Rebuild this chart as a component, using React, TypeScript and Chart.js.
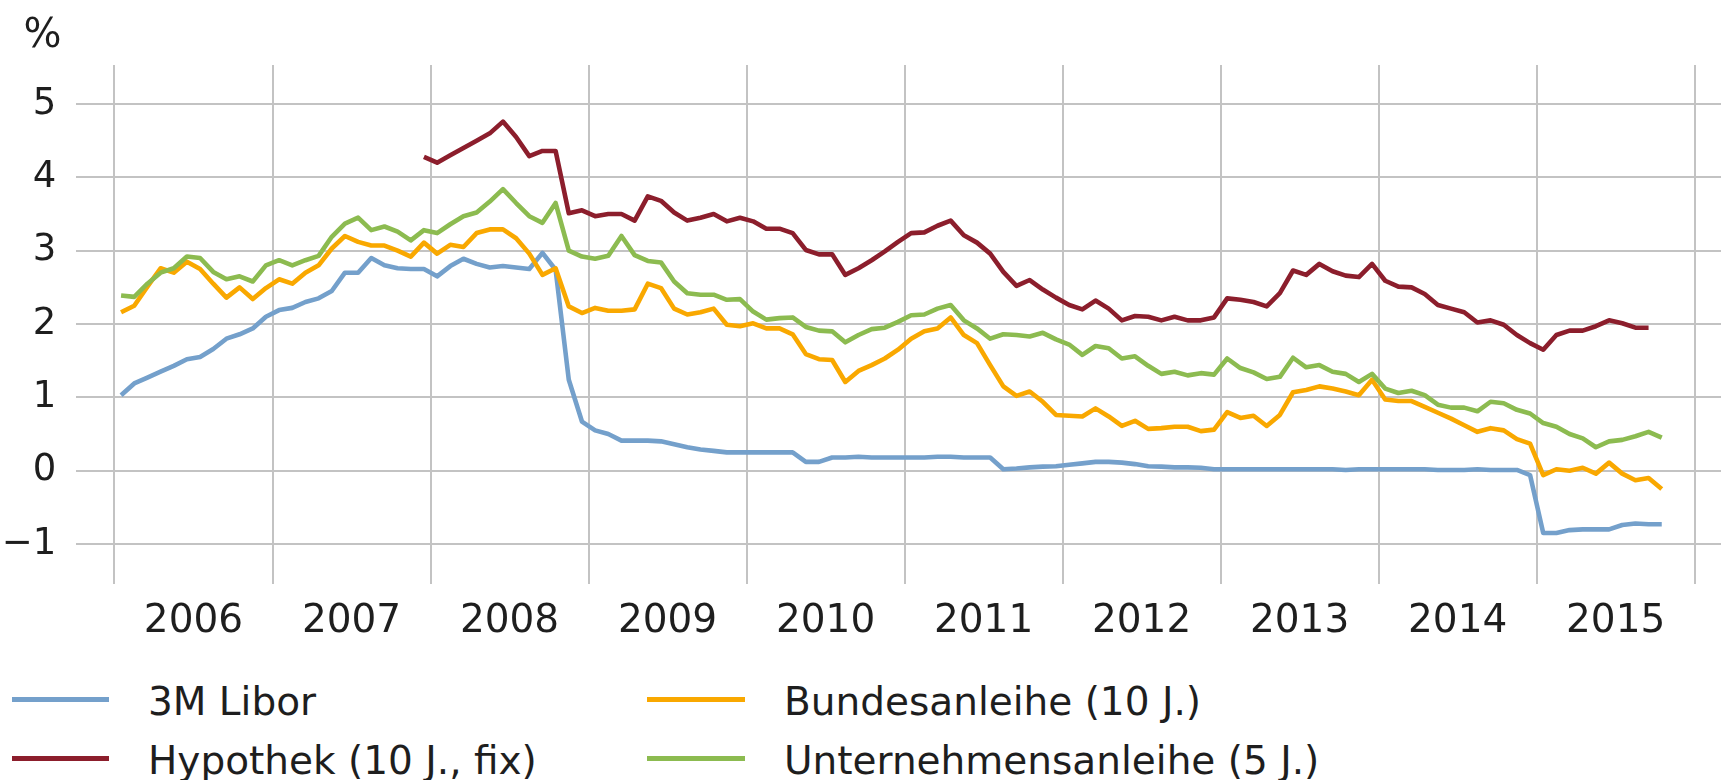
import React, { useEffect, useRef } from 'react';
import { Chart, registerables } from 'chart.js';

Chart.register(...registerables);

// ---- data ----
const yearLabels = ['2006', '2007', '2008', '2009', '2010', '2011', '2012', '2013', '2014', '2015'];
const yTicks = [-1, 0, 1, 2, 3, 4, 5];
const yTickLabels = ['−1', '0', '1', '2', '3', '4', '5'];
const seriesNames = ['3M Libor', 'Hypothek (10 J., fix)', 'Bundesanleihe (10 J.)', 'Unternehmensanleihe (5 J.)'];

// monthly values, first value = Jan 2006
const libor = [
  1.03, 1.19, 1.27, 1.35, 1.43, 1.52, 1.55, 1.66, 1.80, 1.86, 1.94, 2.10,
  2.19, 2.22, 2.30, 2.35, 2.45, 2.70, 2.70, 2.90, 2.80, 2.76, 2.75, 2.75,
  2.65, 2.79, 2.89, 2.82, 2.77, 2.79, 2.77, 2.75, 2.97, 2.74, 1.24, 0.67,
  0.55, 0.50, 0.41, 0.41, 0.41, 0.40, 0.36, 0.32, 0.29, 0.27, 0.25, 0.25,
  0.25, 0.25, 0.25, 0.25, 0.12, 0.12, 0.18, 0.18, 0.19, 0.18, 0.18, 0.18,
  0.18, 0.18, 0.19, 0.19, 0.18, 0.18, 0.18, 0.02, 0.03, 0.045, 0.055, 0.06,
  0.08, 0.10, 0.12, 0.12, 0.11, 0.09, 0.06, 0.055, 0.045, 0.045, 0.04, 0.02,
  0.02, 0.02, 0.02, 0.02, 0.02, 0.02, 0.02, 0.02, 0.02, 0.01, 0.02, 0.02,
  0.02, 0.02, 0.02, 0.02, 0.01, 0.01, 0.01, 0.02, 0.01, 0.01, 0.01, -0.06,
  -0.85, -0.85, -0.81, -0.80, -0.80, -0.80, -0.74, -0.72, -0.73, -0.73,
];

// first value = Dec 2007 (month index 23)
const hypothekStart = 23;
const hypothek = [
  4.28,
  4.20, 4.30, 4.40, 4.50, 4.60, 4.76, 4.55, 4.29, 4.36, 4.36, 3.51, 3.55,
  3.47, 3.50, 3.50, 3.41, 3.74, 3.68, 3.52, 3.41, 3.45, 3.50, 3.40, 3.45,
  3.40, 3.30, 3.30, 3.24, 3.01, 2.95, 2.95, 2.67, 2.76, 2.87, 2.99, 3.12,
  3.24, 3.25, 3.34, 3.41, 3.21, 3.11, 2.96, 2.71, 2.52, 2.60, 2.47, 2.36,
  2.26, 2.20, 2.32, 2.21, 2.05, 2.11, 2.10, 2.05, 2.10, 2.05, 2.05, 2.09,
  2.35, 2.33, 2.30, 2.24, 2.42, 2.73, 2.67, 2.82, 2.72, 2.66, 2.64, 2.82,
  2.59, 2.51, 2.50, 2.41, 2.26, 2.21, 2.16, 2.02, 2.05, 1.99, 1.85, 1.74,
  1.65, 1.85, 1.91, 1.91, 1.97, 2.05, 2.01, 1.95, 1.95,
];

const bundesanleihe = [
  2.16, 2.25, 2.51, 2.76, 2.70, 2.85, 2.75, 2.55, 2.36, 2.50, 2.34, 2.49,
  2.61, 2.55, 2.70, 2.80, 3.03, 3.20, 3.12, 3.07, 3.07, 3.00, 2.92, 3.11,
  2.96, 3.08, 3.05, 3.24, 3.29, 3.29, 3.17, 2.96, 2.67, 2.76, 2.24, 2.15,
  2.22, 2.18, 2.18, 2.20, 2.55, 2.49, 2.21, 2.13, 2.16, 2.21, 1.99, 1.97,
  2.01, 1.94, 1.94, 1.86, 1.59, 1.52, 1.51, 1.21, 1.36, 1.44, 1.53, 1.65,
  1.80, 1.90, 1.94, 2.09, 1.85, 1.74, 1.44, 1.15, 1.02, 1.08, 0.94, 0.76,
  0.75, 0.74, 0.85, 0.74, 0.61, 0.68, 0.57, 0.58, 0.60, 0.60, 0.54, 0.56,
  0.80, 0.72, 0.75, 0.61, 0.76, 1.07, 1.10, 1.15, 1.12, 1.08, 1.03, 1.24,
  0.97, 0.95, 0.95, 0.87, 0.79, 0.71, 0.62, 0.53, 0.58, 0.55, 0.43, 0.37,
  -0.06, 0.02, 0.00, 0.04, -0.04, 0.11, -0.04, -0.13, -0.10, -0.25,
];

const unternehmensanleihe = [
  2.39, 2.37, 2.55, 2.70, 2.76, 2.92, 2.90, 2.71, 2.61, 2.65, 2.58, 2.80,
  2.87, 2.80, 2.87, 2.93, 3.19, 3.37, 3.45, 3.28, 3.33, 3.26, 3.14, 3.28,
  3.24, 3.36, 3.47, 3.52, 3.67, 3.84, 3.65, 3.47, 3.38, 3.65, 3.00, 2.92,
  2.89, 2.93, 3.20, 2.94, 2.86, 2.84, 2.58, 2.42, 2.40, 2.40, 2.33, 2.34,
  2.17, 2.06, 2.08, 2.09, 1.96, 1.91, 1.90, 1.75, 1.85, 1.93, 1.95, 2.03,
  2.12, 2.13, 2.21, 2.26, 2.05, 1.94, 1.80, 1.86, 1.85, 1.83, 1.88, 1.79,
  1.72, 1.58, 1.70, 1.67, 1.53, 1.56, 1.43, 1.32, 1.35, 1.30, 1.33, 1.31,
  1.53, 1.40, 1.34, 1.25, 1.28, 1.54, 1.41, 1.44, 1.35, 1.32, 1.21, 1.32,
  1.12, 1.06, 1.09, 1.03, 0.90, 0.86, 0.86, 0.81, 0.94, 0.92, 0.83, 0.78,
  0.65, 0.60, 0.50, 0.44, 0.32, 0.40, 0.42, 0.47, 0.53, 0.45,
];

// ---- styles ----
const COLORS = ['#74a0cb', '#8c1e2c', '#f9a800', '#8cbb50'];
const GRID = '#c3c3c3';
const TEXT = '#1e1e1e';
const FONT = '"DejaVu Sans", "Liberation Sans", sans-serif';
const W = 1721;
const H = 780;
const CANVAS_H = 660;
const LINE_W = 4.6;

const toPoints = (vals: number[], start: number) =>
  vals.map((v, i) => ({ x: start + i + 0.5, y: v }));

export default function App() {
  const ref = useRef<HTMLCanvasElement | null>(null);

  useEffect(() => {
    const canvas = ref.current;
    if (!canvas) return;
    const nYears = yearLabels.length;
    const xTickValues: number[] = [];
    for (let k = 0; k <= nYears * 2; k++) xTickValues.push(k * 6);

    const mk = (label: string, data: any[], color: string, order: number) => ({
      label,
      data,
      borderColor: color,
      backgroundColor: color,
      borderWidth: LINE_W,
      pointRadius: 0,
      pointHoverRadius: 0,
      tension: 0,
      fill: false,
      order,
      borderJoinStyle: 'round' as const,
      borderCapStyle: 'butt' as const,
    });

    const chart = new Chart(canvas, {
      type: 'line',
      data: {
        datasets: [
          mk(seriesNames[0], toPoints(libor, 0), COLORS[0], 3),
          mk(seriesNames[1], toPoints(hypothek, hypothekStart), COLORS[1], 2),
          mk(seriesNames[2], toPoints(bundesanleihe, 0), COLORS[2], 1),
          mk(seriesNames[3], toPoints(unternehmensanleihe, 0), COLORS[3], 0),
        ],
      },
      options: {
        animation: false,
        responsive: false,
        maintainAspectRatio: false,
        devicePixelRatio: 1,
        layout: { padding: { top: 65, left: 0, right: 0, bottom: 0 } },
        plugins: {
          legend: { display: false },
          tooltip: { enabled: false },
          title: { display: false },
        },
        scales: {
          x: {
            type: 'linear',
            min: -2.9,
            max: 122,
            afterBuildTicks: (axis: any) => {
              axis.ticks = xTickValues.map((v) => ({ value: v }));
            },
            afterFit: (axis: any) => {
              axis.height = CANVAS_H - 584;
            },
            grid: {
              color: (c: any) => (c.tick && c.tick.value % 12 === 0 ? GRID : 'rgba(0,0,0,0)'),
              lineWidth: 2,
              drawTicks: false,
            },
            border: { display: false },
            ticks: {
              autoSkip: false,
              maxRotation: 0,
              minRotation: 0,
              padding: 14,
              color: TEXT,
              font: { family: FONT, size: 39 },
              callback: (v: any) => {
                const n = Number(v);
                return n % 12 === 6 ? yearLabels[(n - 6) / 12] : '';
              },
            },
          },
          y: {
            type: 'linear',
            min: -1.545,
            max: 5.532,
            afterBuildTicks: (axis: any) => {
              axis.ticks = yTicks.map((v) => ({ value: v }));
            },
            afterFit: (axis: any) => {
              axis.width = 76.3;
            },
            grid: { color: GRID, lineWidth: 2, drawTicks: false },
            border: { display: false },
            ticks: {
              padding: 20,
              color: TEXT,
              font: { family: FONT, size: 37 },
              callback: (v: any) => yTickLabels[yTicks.indexOf(Number(v))],
            },
          },
        },
      },
    });
    return () => chart.destroy();
  }, []);

  const legendItems = [
    { name: seriesNames[0], color: COLORS[0], lineX: 11.5, textX: 148, row: 0 },
    { name: seriesNames[1], color: COLORS[1], lineX: 11.5, textX: 148, row: 1 },
    { name: seriesNames[2], color: COLORS[2], lineX: 647, textX: 784, row: 0 },
    { name: seriesNames[3], color: COLORS[3], lineX: 647, textX: 784, row: 1 },
  ];

  return (
    <div
      style={{
        position: 'absolute',
        left: 0,
        top: 0,
        width: W,
        height: H,
        overflow: 'hidden',
        background: '#fff',
        fontFamily: FONT,
        color: TEXT,
      }}
    >
      <canvas ref={ref} width={W} height={CANVAS_H} style={{ position: 'absolute', left: 0, top: 0, width: W, height: CANVAS_H }} />
      <div style={{ position: 'absolute', left: 23.5, top: 13, fontSize: 40, lineHeight: 1, whiteSpace: 'nowrap' }}>%</div>
      {legendItems.map((it) => (
        <React.Fragment key={it.name}>
          <div
            style={{
              position: 'absolute',
              left: it.lineX,
              top: 699.3 + it.row * 59 - 2.3,
              width: 97.5,
              height: 4.6,
              background: it.color,
            }}
          />
          <div
            style={{
              position: 'absolute',
              left: it.textX,
              top: 681.7 + it.row * 59,
              fontSize: 39,
              lineHeight: 1,
              whiteSpace: 'nowrap',
            }}
          >
            {it.name}
          </div>
        </React.Fragment>
      ))}
    </div>
  );
}
